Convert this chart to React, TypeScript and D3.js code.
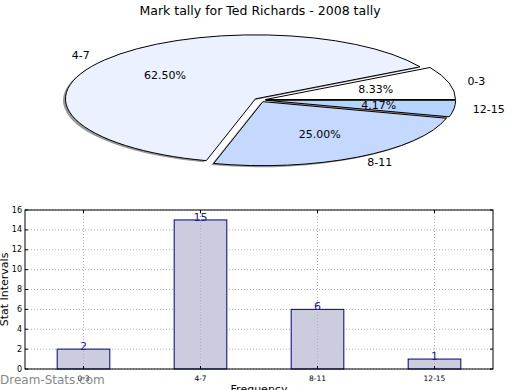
import React from "react";
import * as d3 from "d3";

const title = "Mark tally for Ted Richards - 2008 tally";
const categories = ["0-3", "4-7", "8-11", "12-15"];
const counts = [2, 15, 6, 1];
const sliceColors = ["#ffffff", "#ebf1ff", "#c5d9ff", "#b6d4ff"];
const yTicks = [0, 2, 4, 6, 8, 10, 12, 14, 16];

const W = 520;
const H = 390;

// pie geometry (matplotlib-style: starts east, counter-clockwise, squashed)
const cx = 260;
const cy = 100;
const rx = 190;
const ry = 64;
const explode = 0.03;

// bar chart frame
const bx0 = 25;
const bx1 = 493;
const by0 = 210;
const by1 = 369;

function App() {
  const total = d3.sum(counts);
  const pie = d3
    .pie<number>()
    .sort(null)
    .startAngle(Math.PI / 2)
    .endAngle(Math.PI / 2 - 2 * Math.PI);
  const slices = pie(counts);
  const arc = d3.arc<d3.PieArcDatum<number>>().innerRadius(0).outerRadius(1);

  const x = d3.scalePoint<string>().domain(categories).range([bx0, bx1]).padding(0.5);
  const y = d3.scaleLinear().domain([0, 16]).range([by1, by0]);
  const barW = x.step() * 0.45;

  const font = "DejaVu Sans, sans-serif";

  const wedgeInfo = slices.map((s, i) => {
    const a = (s.startAngle + s.endAngle) / 2;
    const ux = Math.sin(a);
    const uy = -Math.cos(a);
    const ox = cx + explode * rx * ux;
    const oy = cy + explode * ry * uy;
    return { s, i, ux, uy, ox, oy };
  });

  return (
    <svg
      width={W}
      height={H}
      style={{ position: "absolute", left: 0, top: 0, background: "#fff" }}
      fontFamily={font}
    >
      <text x={260} y={15} textAnchor="middle" fontSize={12.5} fill="#000">
        {title}
      </text>

      {/* shadows */}
      {wedgeInfo.map((w) => (
        <path
          key={"sh" + w.i}
          d={arc(w.s) || ""}
          transform={`translate(${w.ox - 2.5},${w.oy + 1.5}) scale(${rx},${ry})`}
          fill="#999"
        />
      ))}
      {/* wedges */}
      {wedgeInfo.map((w) => (
        <path
          key={"w" + w.i}
          d={arc(w.s) || ""}
          transform={`translate(${w.ox},${w.oy}) scale(${rx},${ry})`}
          fill={sliceColors[w.i]}
          stroke="#000"
          strokeWidth={1}
          strokeLinejoin="round"
          vectorEffect="non-scaling-stroke"
        />
      ))}
      {wedgeInfo.map((w) => (
        <g key={"l" + w.i} fontSize={11}>
          <text
            x={w.ox + 1.1 * rx * w.ux}
            y={w.oy + 1.1 * ry * w.uy}
            textAnchor={w.ux > 0 ? "start" : "end"}
            dominantBaseline="central"
          >
            {categories[w.i]}
          </text>
          <text
            x={w.ox + 0.6 * rx * w.ux}
            y={w.oy + 0.6 * ry * w.uy}
            textAnchor="middle"
            dominantBaseline="central"
          >
            {((counts[w.i] / total) * 100).toFixed(2) + "%"}
          </text>
        </g>
      ))}

      {/* bar chart */}
      <g>
        {yTicks.map((t) => (
          <line
            key={"gy" + t}
            x1={bx0}
            x2={bx1}
            y1={y(t)}
            y2={y(t)}
            stroke="#b0b0b0"
            strokeDasharray="1,2"
            strokeWidth={1}
          />
        ))}
        {categories.map((c, i) => (
          <rect
            key={"b" + c}
            x={(x(c) as number) - barW / 2}
            y={y(counts[i])}
            width={barW}
            height={y(0) - y(counts[i])}
            fill="#ccccdf"
            stroke="#000080"
            strokeWidth={1}
          />
        ))}
        {categories.map((c) => (
          <line
            key={"gx" + c}
            x1={x(c) as number}
            x2={x(c) as number}
            y1={by0}
            y2={by1}
            stroke="#b0b0b0"
            strokeDasharray="1,2"
            strokeWidth={1}
          />
        ))}
        {categories.map((c, i) => (
          <text
            key={"v" + c}
            x={x(c) as number}
            y={y(counts[i]) + 1}
            textAnchor="middle"
            fontSize={11}
            fill="#1a1a9a"
          >
            {counts[i]}
          </text>
        ))}
        <rect x={bx0} y={by0} width={bx1 - bx0} height={by1 - by0} fill="none" stroke="#000" strokeWidth={1} />
        {yTicks.map((t) => (
          <g key={"ty" + t}>
            <line x1={bx0} x2={bx0 + 3} y1={y(t)} y2={y(t)} stroke="#000" />
            <line x1={bx1} x2={bx1 - 3} y1={y(t)} y2={y(t)} stroke="#000" />
            <text x={bx0 - 3} y={y(t)} textAnchor="end" dominantBaseline="central" fontSize={8}>
              {t}
            </text>
          </g>
        ))}
        {categories.map((c) => (
          <g key={"tx" + c}>
            <line x1={x(c) as number} x2={x(c) as number} y1={by1} y2={by1 - 3} stroke="#000" />
            <line x1={x(c) as number} x2={x(c) as number} y1={by0} y2={by0 + 3} stroke="#000" />
            <text x={x(c) as number} y={381} textAnchor="middle" fontSize={7.5}>
              {c}
            </text>
          </g>
        ))}
        <text
          transform={`translate(8,${(by0 + by1) / 2}) rotate(-90)`}
          textAnchor="middle"
          fontSize={11}
        >
          Stat Intervals
        </text>
        <text x={259} y={393} textAnchor="middle" fontSize={11}>
          Frequency
        </text>
      </g>

      <text x={0} y={384} fontSize={12} fill="#888">
        Dream-Stats.com
      </text>
    </svg>
  );
}

export default App;
